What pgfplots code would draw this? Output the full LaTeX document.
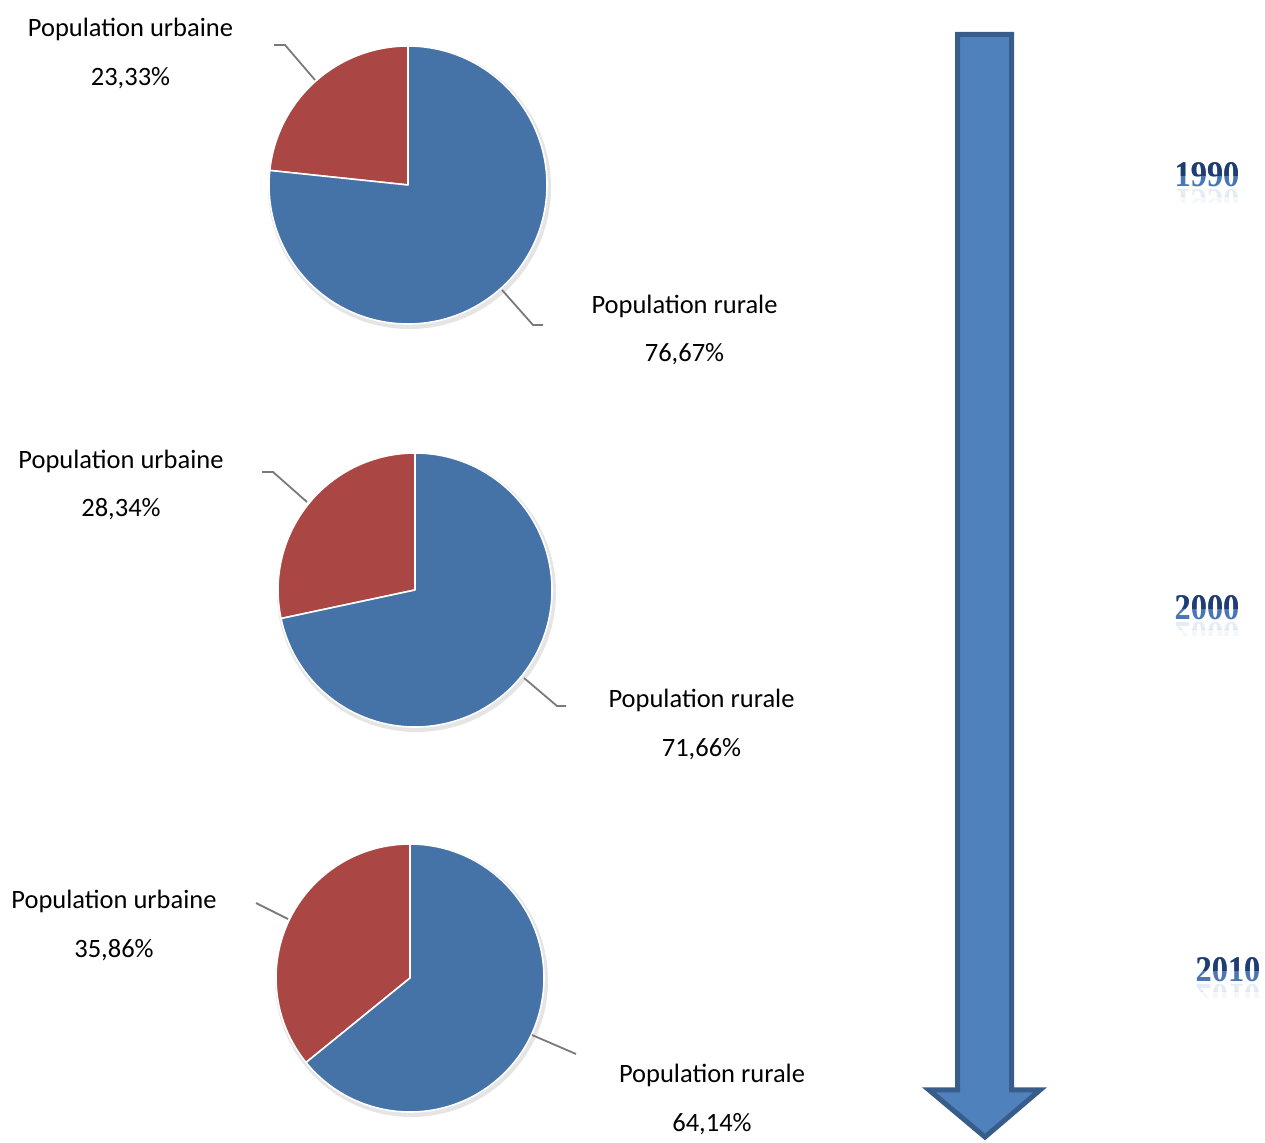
\documentclass[border=0pt]{standalone}
\usepackage{fontspec}
\setmainfont{Carlito}
\newfontfamily\yearfont{Liberation Serif}
\usepackage{pgfplots}
\usepackage{pgfplotstable}
\pgfplotsset{compat=1.18}

\definecolor{urbred}{HTML}{AA4643}
\definecolor{rurblue}{HTML}{4572A7}
\definecolor{arrowfill}{HTML}{4F81BD}
\definecolor{arrowedge}{HTML}{385D8A}
\definecolor{leader}{HTML}{7A7A7A}
\definecolor{yeardark}{HTML}{1F3D73}
\definecolor{yearlight}{HTML}{4A76B5}

% share of urban and rural population (%)
\pgfplotstableread{
year urbaine rurale
1990 23.33 76.67
2000 28.34 71.66
2010 35.86 64.14
}\popdata

% one pie: centre x, centre y, radius, urban share, rural share
\newcommand{\pie}[5]{%
\begin{axis}[at={(#1pt,#2pt)}, anchor=center, x=1pt, y=1pt,
  xmin=-160, xmax=160, ymin=-160, ymax=160, hide axis, clip=false]
  \fill[black, opacity=0.10] (axis cs:1.5,-2.5) circle[radius=#3pt+2.5pt];
  \filldraw[fill=urbred, draw=white, line width=1.6pt, line join=round]
    (axis cs:0,0) -- ++(90:#3pt) arc[start angle=90, delta angle={3.6*#4}, radius=#3pt] -- cycle;
  \filldraw[fill=rurblue, draw=white, line width=1.6pt, line join=round]
    (axis cs:0,0) -- ++({90+3.6*#4}:#3pt) arc[start angle={90+3.6*#4}, delta angle={3.6*#5}, radius=#3pt] -- cycle;
\end{axis}}

\newcommand{\getshares}[1]{%
  \pgfplotstablegetelem{#1}{urbaine}\of\popdata\edef\urb{\pgfplotsretval}%
  \pgfplotstablegetelem{#1}{rurale}\of\popdata\edef\rur{\pgfplotsretval}}

\newcommand{\lbl}{\fontsize{26.5}{30}\selectfont}
\newcommand{\yfont}{\yearfont\bfseries\fontsize{36}{38}\selectfont}

% year caption with darker top half and a faint reflection
\newcommand{\yearlabel}[3]{%
  \node[anchor=base, inner sep=0, xscale=0.9, text=yearlight, font=\yfont] at (#1,#2) {#3};
  \begin{scope}
    \clip (#1-60,#2+11) rectangle (#1+60,#2+40);
    \node[anchor=base, inner sep=0, xscale=0.9, text=yeardark, font=\yfont] at (#1,#2) {#3};
  \end{scope}
  \begin{scope}
    \clip (#1-60,#2-10) rectangle (#1+60,#2-3);
    \node[anchor=base, inner sep=0, xscale=0.9, yscale=-1, text=yearlight, opacity=0.14, font=\yfont] at (#1,#2-3) {#3};
  \end{scope}
  \begin{scope}
    \clip (#1-60,#2-16) rectangle (#1+60,#2-10);
    \node[anchor=base, inner sep=0, xscale=0.9, yscale=-1, text=yearlight, opacity=0.06, font=\yfont] at (#1,#2-3) {#3};
  \end{scope}}

\begin{document}
\begin{tikzpicture}[x=1pt, y=1pt]
\useasboundingbox (0,0) rectangle (1265,1142);

% pies
\getshares{0}\pie{408}{957}{139}{\urb}{\rur}
\getshares{1}\pie{415}{552}{137}{\urb}{\rur}
\getshares{2}\pie{410}{164}{134}{\urb}{\rur}

% leader lines
\begin{scope}[leader, line width=1.8pt]
  \draw (315,1062) -- (285,1097) -- (274,1097);
  \draw (502,852) -- (533,817) -- (543,817);
  \draw (307,640) -- (273,670) -- (262,670);
  \draw (524,464) -- (557,436) -- (566,436);
  \draw (288,223) -- (256,239);
  \draw (532,107) -- (576,88);
\end{scope}

% labels
\node[anchor=base, font=\lbl] at (130.5,1105) {Population urbaine};
\node[anchor=base, font=\lbl] at (130.5,1056) {23,33\%};
\node[anchor=base, font=\lbl] at (684.5,828) {Population rurale};
\node[anchor=base, font=\lbl] at (684.5,780) {76,67\%};

\node[anchor=base, font=\lbl] at (121,673) {Population urbaine};
\node[anchor=base, font=\lbl] at (121,625) {28,34\%};
\node[anchor=base, font=\lbl] at (701.5,434) {Population rurale};
\node[anchor=base, font=\lbl] at (701.5,385) {71,66\%};

\node[anchor=base, font=\lbl] at (114,233) {Population urbaine};
\node[anchor=base, font=\lbl] at (114,184) {35,86\%};
\node[anchor=base, font=\lbl] at (712,59) {Population rurale};
\node[anchor=base, font=\lbl] at (712,10) {64,14\%};

% time arrow
\filldraw[fill=arrowfill, draw=arrowedge, line width=5pt, line join=miter]
  (957.5,1107.5) -- (1011.5,1107.5) -- (1011.5,52) -- (1040,52)
  -- (985,5) -- (929,52) -- (957.5,52) -- cycle;

% years
\yearlabel{1207}{955}{1990}
\yearlabel{1207}{522}{2000}
\yearlabel{1228}{160}{2010}
\end{tikzpicture}
\end{document}
